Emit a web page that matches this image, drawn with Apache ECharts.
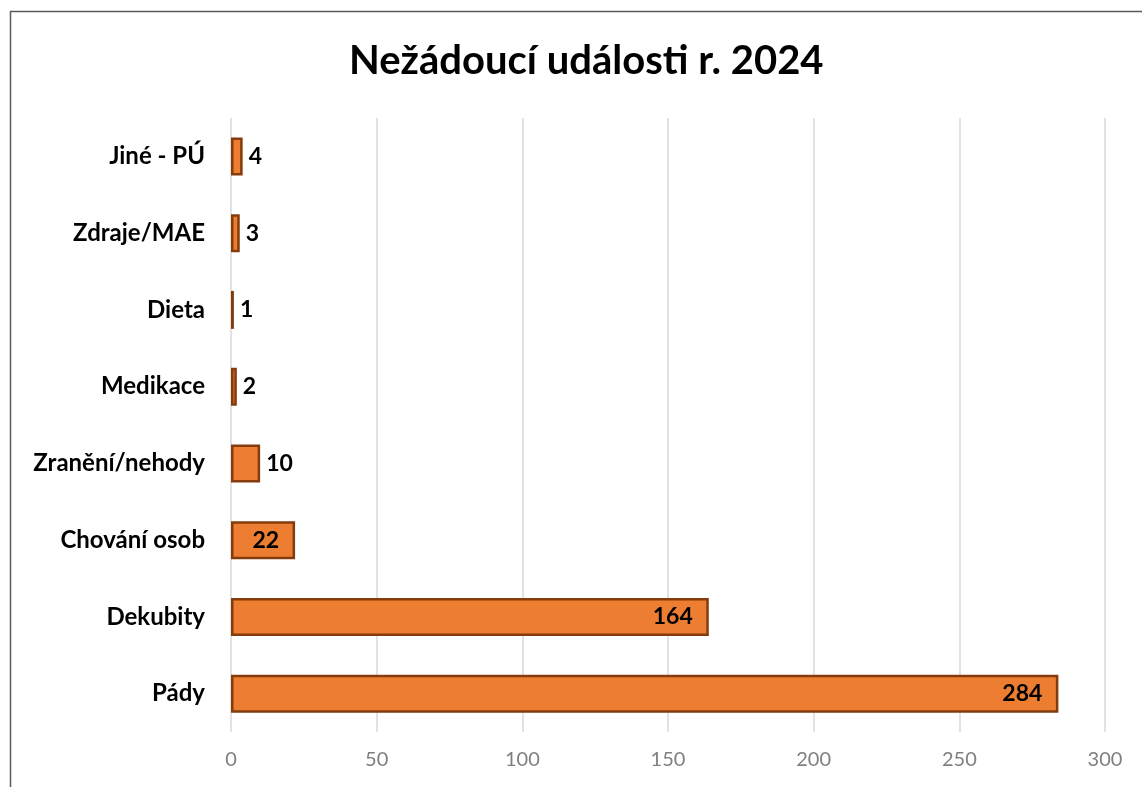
<!DOCTYPE html>
<html>
<head>
<meta charset="utf-8">
<script src="https://cdn.jsdelivr.net/npm/echarts@6/dist/echarts.min.js"></script>
<style>
  html, body { margin: 0; padding: 0; background: #fff; }
  #chart { width: 1142px; height: 787px; }
</style>
</head>
<body>
<div id="chart"></div>
<script>
// data, bottom to top
const categories = ['Pády', 'Dekubity', 'Chování osob', 'Zranění/nehody', 'Medikace', 'Dieta', 'Zdraje/MAE', 'Jiné - PÚ']
const values = [284, 164, 22, 10, 2, 1, 3, 4]
const xTicks = [0, 50, 100, 150, 200, 250, 300]

const chart = echarts.init(document.getElementById('chart'))

const font = 'Lato, "Open Sans", sans-serif'

chart.setOption({
  animation: false,
  title: {
    text: 'Nežádoucí události r. 2024',
    left: 344,
    top: 36,
    textStyle: { fontFamily: font, fontSize: 40, fontWeight: 'bold', color: '#000' },
  },
  graphic: [{
    type: 'rect',
    shape: { x: 10.5, y: 11.5, width: 1300, height: 900 },
    style: { fill: 'none', stroke: '#595959', lineWidth: 1.5 },
    silent: true,
  }],
  grid: { left: 231, right: 37, top: 118, bottom: 55 },
  xAxis: {
    type: 'value',
    min: xTicks[0],
    max: xTicks[xTicks.length - 1],
    interval: 50,
    axisLine: { show: false },
    axisTick: { show: false },
    splitLine: { lineStyle: { color: '#d9d9d9', width: 1.5 } },
    axisLabel: { color: '#808080', fontSize: 20, fontFamily: font, margin: 18 },
  },
  yAxis: {
    type: 'category',
    data: categories,
    axisLine: { show: false },
    axisTick: { show: false },
    axisLabel: { color: '#000', fontSize: 24, fontWeight: 'bold', fontFamily: font, margin: 26 },
  },
  series: [{
    type: 'bar',
    data: values.map(v => ({
      value: v,
      label: v > 15
        ? { position: 'insideRight', distance: 16 }
        : { position: 'right', distance: 6 },
    })),
    barWidth: 38,
    itemStyle: { color: '#ED7D31', borderColor: '#843C0C', borderWidth: 2.5 },
    label: {
      show: true,
      color: '#000',
      fontSize: 23,
      fontWeight: 'bold',
      fontFamily: font,
    },
  }],
})
</script>
</body>
</html>
